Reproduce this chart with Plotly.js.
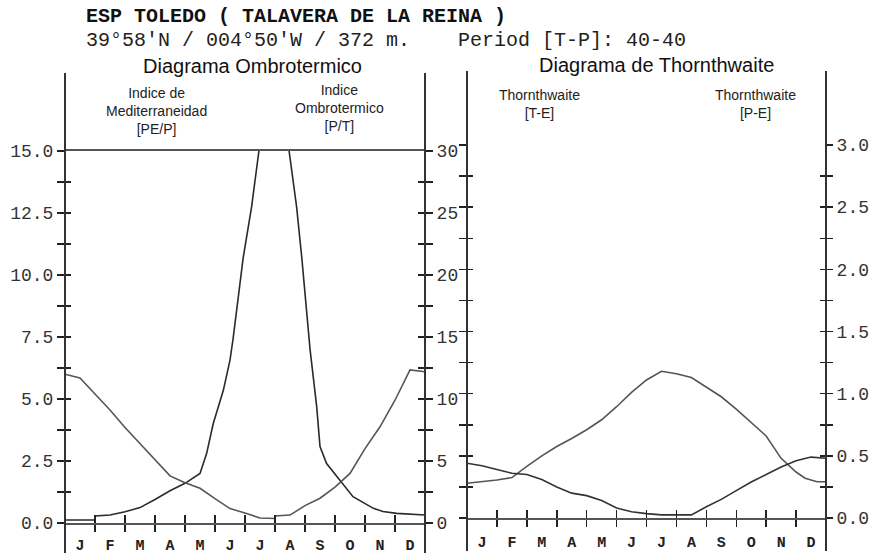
<!DOCTYPE html>
<html>
<head>
<meta charset="utf-8">
<script src="https://cdn.plot.ly/plotly-3.0.1.min.js"></script>
<style>html,body{margin:0;padding:0;background:#fff;}#chart{width:872px;height:556px;}</style>
</head>
<body>
<div id="chart"></div>
<script>
// ---- Data ----
const months = ['J','F','M','A','M','J','J','A','S','O','N','D'];
const monthEdges = [0,1,2,3,4,5,6,7,8,9,10,11,12];
const monthCenters = [0.5,1.5,2.5,3.5,4.5,5.5,6.5,7.5,8.5,9.5,10.5,11.5];

// Diagrama Ombrotermico: Indice de Mediterraneidad [PE/P] (left axis 0-15)
const pepX = [0, 1.0, 1.0, 1.5, 2.0, 2.5, 3.0, 3.5, 4.0, 4.5, 4.72, 4.94, 5.28, 5.5, 5.6, 5.94, 6.22, 6.45, 6.95, 7.47, 7.72, 7.89, 8.17, 8.39, 8.5, 8.72, 9.17, 9.6, 10.28, 10.6, 11.06, 11.93, 12];
const pepY = [0.12, 0.12, 0.28, 0.32, 0.45, 0.62, 0.95, 1.3, 1.6, 2.0, 2.8, 4.0, 5.36, 6.57, 7.4, 10.7, 12.75, 14.9, 19.5, 15.0, 12.75, 10.74, 6.98, 4.69, 3.08, 2.4, 1.73, 1.06, 0.59, 0.46, 0.39, 0.32, 0.32];

// Indice Ombrotermico [P/T] (right axis 0-30)
const ptX = [0, 0.5, 1.0, 1.5, 2.0, 2.5, 3.0, 3.5, 4.0, 4.5, 5.0, 5.5, 6.0, 6.5, 7.0, 7.0, 7.5, 8.0, 8.5, 9.0, 9.5, 10.0, 10.5, 11.0, 11.5, 12.0];
const ptY = [12.0, 11.7, 10.4, 9.12, 7.7, 6.4, 5.1, 3.8, 3.24, 2.8, 1.96, 1.16, 0.8, 0.4, 0.36, 0.56, 0.64, 1.4, 2.0, 2.9, 4.0, 6.0, 7.76, 9.9, 12.34, 12.2];

// Diagrama de Thornthwaite: [T-E] (left axis 0-30)
const teX = [0, 0.5, 1.0, 1.5, 1.8, 2.0, 2.5, 3.0, 3.5, 4.0, 4.5, 5.0, 5.5, 6.0, 6.5, 7.0, 7.5, 8.0, 8.5, 9.0, 9.5, 10.0, 10.5, 11.0, 11.3, 11.7, 12.0];
const teY = [2.8, 2.9, 3.05, 3.25, 3.75, 4.15, 5.0, 5.75, 6.4, 7.1, 7.9, 8.95, 10.1, 11.1, 11.8, 11.6, 11.3, 10.55, 9.75, 8.75, 7.7, 6.6, 4.8, 3.7, 3.2, 2.92, 2.92];

// [P-E] (right axis 0-3)
const peX = [0, 0.5, 1.0, 1.5, 2.0, 2.5, 3.0, 3.5, 4.0, 4.5, 5.0, 5.5, 6.0, 6.5, 7.0, 7.5, 8.0, 8.5, 9.0, 9.5, 10.0, 10.5, 11.0, 11.5, 12.0];
const peY = [0.44, 0.42, 0.39, 0.36, 0.35, 0.31, 0.25, 0.20, 0.18, 0.14, 0.08, 0.05, 0.035, 0.025, 0.025, 0.025, 0.09, 0.15, 0.22, 0.29, 0.35, 0.41, 0.46, 0.49, 0.48];

// Tick labels
const leftTickVals = [0,1.25,2.5,3.75,5,6.25,7.5,8.75,10,11.25,12.5,13.75,15];
const leftTickText = ['0.0','','2.5','','5.0','','7.5','','10.0','','12.5','','15.0'];
const midTickVals = [0,2.5,5,7.5,10,12.5,15,17.5,20,22.5,25,27.5,30];
const midTickText = ['0','','5','','10','','15','','20','','25','','30'];
const rightTickVals = [0,0.25,0.5,0.75,1,1.25,1.5,1.75,2,2.25,2.5,2.75,3];
const rightTickText = ['0.0','','0.5','','1.0','','1.5','','2.0','','2.5','','3.0'];

const headerLine1 = 'ESP TOLEDO ( TALAVERA DE LA REINA )';
const headerLine2 = "39°58'N / 004°50'W / 372 m.    Period [T-P]: 40-40";

// ---- Layout helpers ----
const W = 872, H = 556, TOP = 145, BOT = 33;
const PH = H - TOP - BOT;
const px = v => v / W;
const py = v => (H - BOT - v) / PH;

const dXL = [px(65), px(425)];
const dXR = [px(467), px(826)];
const dYL = [0, py(151)];
const dYR = [py(518), 1];

const ink = '#222';
const mono = 'Liberation Mono';

function baseAxis(extra) {
  return Object.assign({showgrid:false, zeroline:false, fixedrange:true, tickcolor:ink, tickwidth:1.5,
    tickfont:{family:mono, size:18, color:'#333'}}, extra);
}
const monthFont = {family:mono, size:15, color:ink, weight:'bold'};

const layout = {
  width: W, height: H,
  margin: {l:0, r:0, t:TOP, b:BOT, pad:0},
  paper_bgcolor:'#fff', plot_bgcolor:'rgba(0,0,0,0)',
  showlegend:false,
  font:{family:mono, color:ink},
  // left panel x
  xaxis: baseAxis({domain:dXL, anchor:'y', range:[0,12], tickvals:monthEdges, ticks:'outside', ticklen:7,
    showticklabels:false, showline:true, linecolor:'#555', linewidth:2, mirror:true}),
  xaxis3: baseAxis({overlaying:'x', anchor:'y', range:[0,12], tickvals:monthEdges, ticks:'inside', ticklen:8,
    showticklabels:false, showline:false}),
  xaxis5: baseAxis({overlaying:'x', anchor:'y', range:[0,12], tickvals:monthCenters, ticktext:months, ticks:'outside',
    ticklen:8, tickcolor:'rgba(0,0,0,0)', showline:false, tickfont:monthFont}),
  // right panel x
  xaxis2: baseAxis({domain:dXR, anchor:'y5', range:[0,12], tickvals:monthEdges, ticks:'outside', ticklen:7,
    showticklabels:false, showline:true, linecolor:'#555', linewidth:2}),
  xaxis4: baseAxis({overlaying:'x2', anchor:'y5', range:[0,12], tickvals:monthEdges, ticks:'inside', ticklen:8,
    showticklabels:false, showline:false}),
  xaxis6: baseAxis({overlaying:'x2', anchor:'y5', range:[0,12], tickvals:monthCenters, ticktext:months, ticks:'outside',
    ticklen:10, tickcolor:'rgba(0,0,0,0)', showline:false, tickfont:monthFont}),
  // left panel y
  yaxis: baseAxis({domain:dYL, anchor:'x', range:[0,15], tickvals:leftTickVals, ticktext:leftTickText,
    ticks:'outside', ticklen:7, showline:false}),
  yaxis3: baseAxis({overlaying:'y', anchor:'x', side:'left', range:[0,15], tickvals:leftTickVals,
    ticks:'inside', ticklen:6, showticklabels:false, showline:false}),
  yaxis2: baseAxis({overlaying:'y', anchor:'x', side:'right', range:[0,30], tickvals:midTickVals, ticktext:midTickText,
    ticks:'outside', ticklen:7, showline:false}),
  yaxis4: baseAxis({overlaying:'y', anchor:'x', side:'right', range:[0,30], tickvals:midTickVals,
    ticks:'inside', ticklen:7, showticklabels:false, showline:false}),
  // right panel y
  yaxis5: baseAxis({domain:dYR, anchor:'x2', range:[0,30], tickvals:midTickVals,
    ticks:'outside', ticklen:7, showticklabels:false, showline:false}),
  yaxis7: baseAxis({overlaying:'y5', anchor:'x2', side:'left', range:[0,30], tickvals:midTickVals,
    ticks:'inside', ticklen:6, showticklabels:false, showline:false}),
  yaxis6: baseAxis({overlaying:'y5', anchor:'x2', side:'right', range:[0,3], tickvals:rightTickVals, ticktext:rightTickText,
    ticks:'outside', ticklen:6, showline:false}),
  yaxis8: baseAxis({overlaying:'y5', anchor:'x2', side:'right', range:[0,3], tickvals:rightTickVals,
    ticks:'inside', ticklen:6, showticklabels:false, showline:false}),
  shapes: [
    {type:'line', xref:'paper', yref:'paper', x0:dXL[0], x1:dXL[0], y0:py(553), y1:py(73), line:{color:'#333', width:2}},
    {type:'line', xref:'paper', yref:'paper', x0:dXL[1], x1:dXL[1], y0:py(553), y1:py(73), line:{color:'#333', width:2}},
    {type:'line', xref:'paper', yref:'paper', x0:dXR[0], x1:dXR[0], y0:py(551), y1:py(71), line:{color:'#333', width:2}},
    {type:'line', xref:'paper', yref:'paper', x0:dXR[1], x1:dXR[1], y0:py(551), y1:py(71), line:{color:'#333', width:2}}
  ],
  annotations: [
    {xref:'paper', yref:'paper', x:px(84), y:py(16), xanchor:'left', yanchor:'middle', showarrow:false,
     text:headerLine1, font:{family:mono, size:20, color:'#111', weight:'bold'}},
    {xref:'paper', yref:'paper', x:px(84), y:py(40), xanchor:'left', yanchor:'middle', showarrow:false,
     text:headerLine2, font:{family:mono, size:20, color:'#222'}},
    {xref:'paper', yref:'paper', x:px(252), y:py(66), xanchor:'center', yanchor:'middle', showarrow:false,
     text:'Diagrama Ombrotermico', font:{family:'Liberation Sans', size:20, color:'#111'}},
    {xref:'paper', yref:'paper', x:px(656), y:py(65), xanchor:'center', yanchor:'middle', showarrow:false,
     text:'Diagrama de Thornthwaite', font:{family:'Liberation Sans', size:20, color:'#111'}},
    {xref:'paper', yref:'paper', x:px(156), y:py(111), xanchor:'center', yanchor:'middle', showarrow:false,
     text:'Indice de<br>Mediterraneidad<br>[PE/P]', font:{family:'Liberation Sans', size:14, color:'#222'}},
    {xref:'paper', yref:'paper', x:px(339), y:py(108), xanchor:'center', yanchor:'middle', showarrow:false,
     text:'Indice<br>Ombrotermico<br>[P/T]', font:{family:'Liberation Sans', size:14, color:'#222'}},
    {xref:'paper', yref:'paper', x:px(539), y:py(104), xanchor:'center', yanchor:'middle', showarrow:false,
     text:'Thornthwaite<br>[T-E]', font:{family:'Liberation Sans', size:14, color:'#222'}},
    {xref:'paper', yref:'paper', x:px(755), y:py(104), xanchor:'center', yanchor:'middle', showarrow:false,
     text:'Thornthwaite<br>[P-E]', font:{family:'Liberation Sans', size:14, color:'#222'}}
  ]
};

const traces = [
  {x:pepX, y:pepY, xaxis:'x', yaxis:'y', mode:'lines', line:{color:'#2a2a2a', width:1.6}, hoverinfo:'skip'},
  {x:ptX, y:ptY, xaxis:'x', yaxis:'y2', mode:'lines', line:{color:'#555', width:1.6}, hoverinfo:'skip'},
  {x:teX, y:teY, xaxis:'x2', yaxis:'y5', mode:'lines', line:{color:'#555', width:1.6}, hoverinfo:'skip'},
  {x:peX, y:peY, xaxis:'x2', yaxis:'y6', mode:'lines', line:{color:'#333', width:1.6}, hoverinfo:'skip'},
  // empty helper traces so that the twin (tick / label) axes get drawn
  {x:[null], y:[null], xaxis:'x3', yaxis:'y3', mode:'lines', hoverinfo:'skip'},
  {x:[null], y:[null], xaxis:'x5', yaxis:'y4', mode:'lines', hoverinfo:'skip'},
  {x:[null], y:[null], xaxis:'x4', yaxis:'y7', mode:'lines', hoverinfo:'skip'},
  {x:[null], y:[null], xaxis:'x6', yaxis:'y8', mode:'lines', hoverinfo:'skip'}
];

Plotly.newPlot('chart', traces, layout, {staticPlot:true, displayModeBar:false});
</script>
</body>
</html>
